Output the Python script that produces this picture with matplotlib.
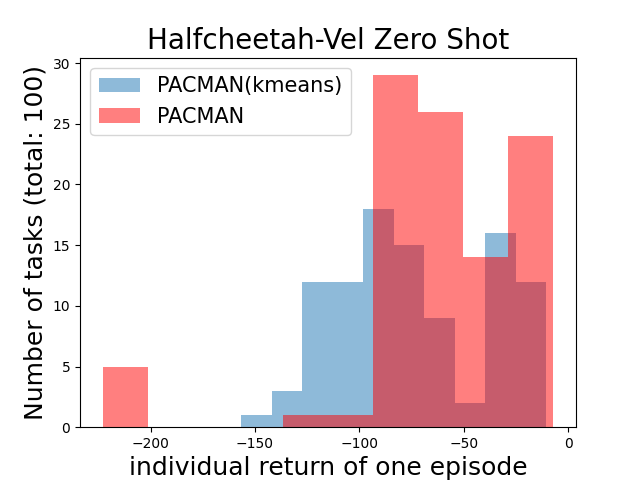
import numpy as np
import matplotlib
matplotlib.use("Agg")
from matplotlib import pyplot as plt

# histogram bin edges and counts
kmeans_edges = np.linspace(-156.6, -10.4, 11)
kmeans_counts = [1, 3, 12, 12, 18, 15, 9, 2, 16, 12]

pacman_edges = np.linspace(-223.0, -7.0, 11)
pacman_counts = [5, 0, 0, 0, 1, 1, 29, 26, 14, 24]

fig, ax = plt.subplots(figsize=(6.4, 4.8), dpi=100)

ax.hist(kmeans_edges[:-1], bins=kmeans_edges, weights=kmeans_counts,
        alpha=0.5, label="PACMAN(kmeans)")
ax.hist(pacman_edges[:-1], bins=pacman_edges, weights=pacman_counts,
        alpha=0.5, color="red", label="PACMAN")

ax.set_title("Halfcheetah-Vel Zero Shot", fontsize=20)
ax.set_xlabel("individual return of one episode", fontsize=18)
ax.set_ylabel("Number of tasks (total: 100)", fontsize=18)
ax.legend(fontsize=15, loc="upper left")

fig.savefig("out.png")
